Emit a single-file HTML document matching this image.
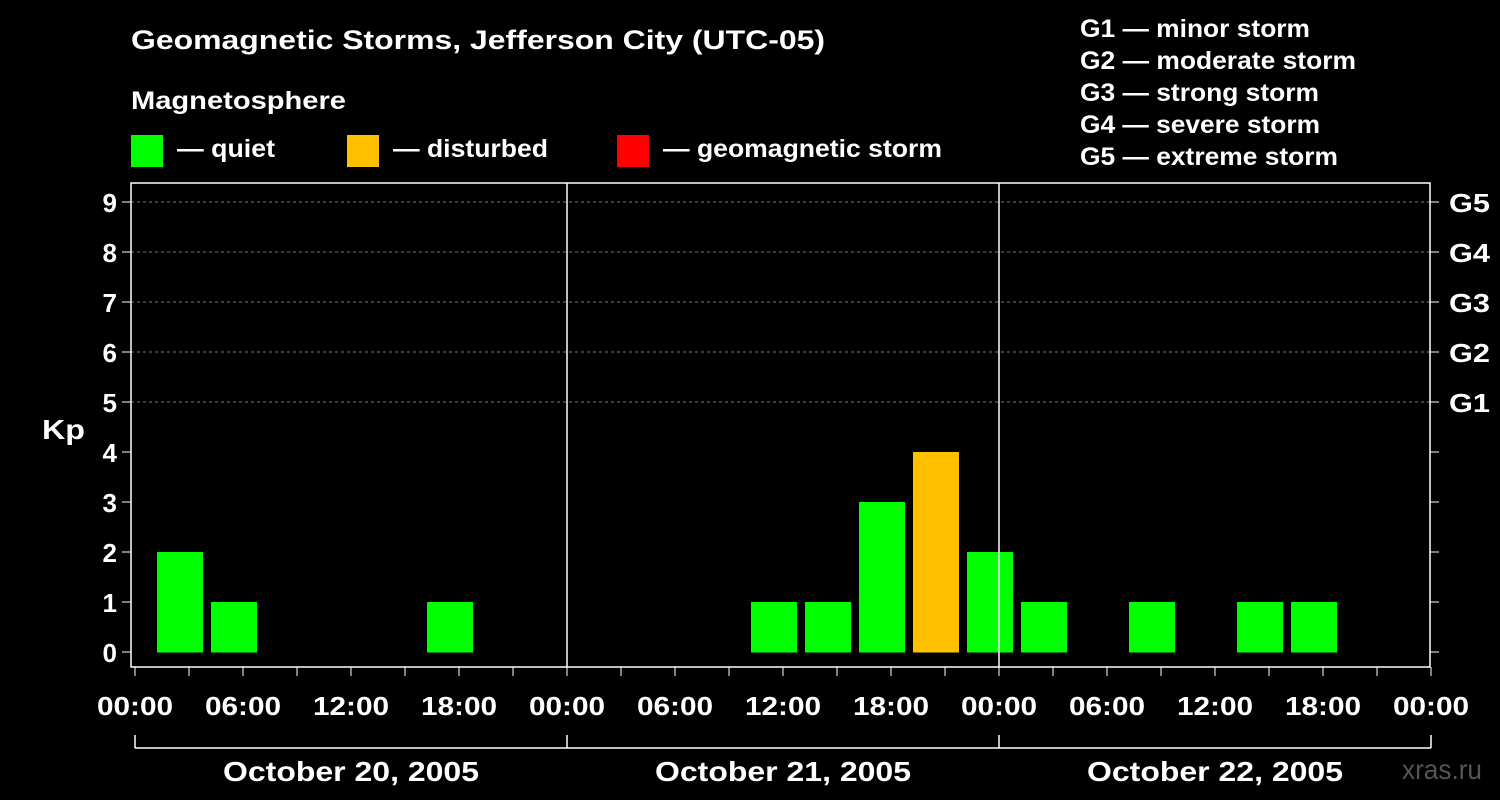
<!DOCTYPE html>
<html><head><meta charset="utf-8"><style>
body{margin:0;background:#000;width:1500px;height:800px;overflow:hidden}
svg{display:block;font-family:"Liberation Sans",Arial,sans-serif;font-weight:bold}
</style></head><body>
<svg id="c" width="1500" height="800">
<text x="131" y="49" fill="#fff" font-size="27" textLength="694" lengthAdjust="spacingAndGlyphs">Geomagnetic Storms, Jefferson City (UTC-05)</text>
<text x="131" y="109" fill="#fff" font-size="25" textLength="215" lengthAdjust="spacingAndGlyphs">Magnetosphere</text>
<g><rect x="131" y="135" width="32" height="32" fill="#00ff00"/><text x="177" y="157" fill="#fff" font-size="25" textLength="98" lengthAdjust="spacingAndGlyphs">— quiet</text></g>
<g><rect x="347" y="135" width="32" height="32" fill="#ffc000"/><text x="393" y="157" fill="#fff" font-size="25" textLength="155" lengthAdjust="spacingAndGlyphs">— disturbed</text></g>
<g><rect x="617" y="135" width="32" height="32" fill="#ff0000"/><text x="663" y="157" fill="#fff" font-size="25" textLength="279" lengthAdjust="spacingAndGlyphs">— geomagnetic storm</text></g>
<g fill="#fff" font-size="25">
<text x="1080" y="37" textLength="230" lengthAdjust="spacingAndGlyphs">G1 — minor storm</text><text x="1080" y="69" textLength="276" lengthAdjust="spacingAndGlyphs">G2 — moderate storm</text><text x="1080" y="101" textLength="239" lengthAdjust="spacingAndGlyphs">G3 — strong storm</text><text x="1080" y="133" textLength="240" lengthAdjust="spacingAndGlyphs">G4 — severe storm</text><text x="1080" y="165" textLength="258" lengthAdjust="spacingAndGlyphs">G5 — extreme storm</text></g>
<text x="42" y="439" fill="#fff" font-size="28" textLength="43" lengthAdjust="spacingAndGlyphs">Kp</text>
<text x="1402" y="779" fill="#555" font-size="28" font-weight="normal" textLength="80" lengthAdjust="spacingAndGlyphs">xras.ru</text>
<g id="plot"></g>
</svg>
<script>
const kpValues=[2,1,0,0,0,1,0,0, 0,0,0,1,1,3,4,2, 1,0,1,0,1,1,0,0];
const dayLabels=["October 20, 2005","October 21, 2005","October 22, 2005"];
const timeLabels=["00:00","06:00","12:00","18:00"];
const gLabels=["G1","G2","G3","G4","G5"];
const NS="http://www.w3.org/2000/svg";
const g=document.getElementById('plot');
const X0=135,DAY=432,Y0=652,UNIT=50,L=131,R=1430,T=183,B=667;
const xh=h=>X0+h*DAY/24, yk=k=>Y0-k*UNIT;
function mk(t,a,txt){const e=document.createElementNS(NS,t);for(const k in a)e.setAttribute(k,a[k]);if(txt!==undefined)e.textContent=txt;g.appendChild(e);return e;}
for(let k=5;k<=9;k++){const l=mk('line',{x1:L,x2:R,y1:yk(k),y2:yk(k),stroke:'#777','stroke-dasharray':'3,3'});

}
kpValues.forEach((v,i)=>{if(v<=0)return;const s=1+3*i;
const r=mk('rect',{x:xh(s)+4,y:yk(v),width:DAY/8-8,height:yk(0)-yk(v)+0.5,fill:v>=5?'#ff0000':v>=4?'#ffc000':'#00ff00'});

});
const fr=mk('rect',{x:L,y:T,width:R-L,height:B-T,fill:'none',stroke:'#fff','stroke-width':1.5});


for(let d=1;d<3;d++){const l=mk('line',{x1:xh(24*d),x2:xh(24*d),y1:T,y2:B,stroke:'#fff','stroke-width':1.5});

}
for(let k=0;k<=9;k++){
mk('line',{x1:L-9,x2:L,y1:yk(k),y2:yk(k),stroke:'#fff'});mk('line',{x1:R,x2:R+9,y1:yk(k),y2:yk(k),stroke:'#fff'});
const t=mk('text',{x:117,y:yk(k)+10,fill:'#fff','font-size':26,'text-anchor':'end'},String(k));


if(k>=5){const t2=mk('text',{x:1449,y:yk(k)+10,fill:'#fff','font-size':26,textLength:41,lengthAdjust:'spacingAndGlyphs'},gLabels[k-5]);

}}
for(let h=0;h<=72;h+=3){mk('line',{x1:xh(h),x2:xh(h),y1:B,y2:B+9,stroke:'#fff'});
if(h%6===0){const t=mk('text',{x:xh(h),y:715,fill:'#fff','font-size':26,'text-anchor':'middle',textLength:76,lengthAdjust:'spacingAndGlyphs'},timeLabels[(h%24)/6]);

}}
mk('line',{x1:xh(0),x2:xh(72),y1:748,y2:748,stroke:'#fff','stroke-width':1.5});
for(let d=0;d<=3;d++)mk('line',{x1:xh(24*d),x2:xh(24*d),y1:735,y2:748,stroke:'#fff','stroke-width':1.5});
dayLabels.forEach((s,d)=>{const t=mk('text',{x:xh(24*d+12),y:781,fill:'#fff','font-size':28,'text-anchor':'middle',textLength:256,lengthAdjust:'spacingAndGlyphs'},s);

});
</script>
</body></html>
